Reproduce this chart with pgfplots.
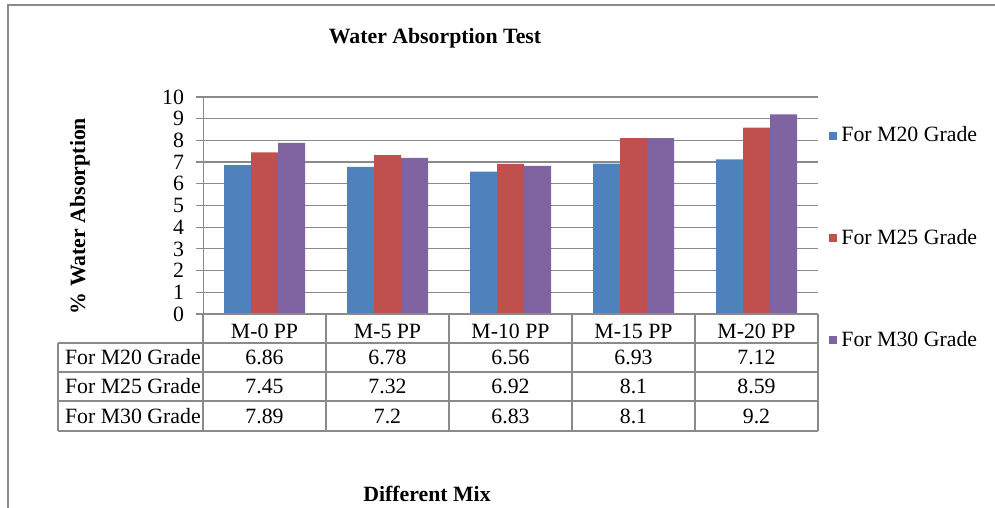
\documentclass[border=0pt]{standalone}
\usepackage{pgfplots}
\pgfplotsset{compat=1.18}
\usepackage{pgfplotstable}
\usepackage{fontspec}
\setmainfont{Liberation Serif}

\definecolor{gM20}{HTML}{4F81BD}
\definecolor{gM25}{HTML}{C0504D}
\definecolor{gM30}{HTML}{8064A2}
\definecolor{rule}{HTML}{8A8A8A}

% water absorption (%) for each mix and concrete grade
\pgfplotstableread{
x m20 m25 m30
0 6.86 7.45 7.89
1 6.78 7.32 7.2
2 6.56 6.92 6.83
3 6.93 8.1 8.1
4 7.12 8.59 9.2
}\datatable

\newcommand{\chartfont}{\fontsize{10.9}{13}\selectfont}

\begin{document}
\begin{tikzpicture}[x=0.5pt,y=0.5pt,font=\chartfont]
\useasboundingbox (0,0) rectangle (995,508);
% outer chart frame
\draw[rule,line width=0.8pt] (8,-20) -- (8,503) -- (1010,503);

\begin{axis}[
  at={(101.5pt,97pt)}, anchor=south west,
  scale only axis, width=307.5pt, height=108.5pt,
  xmin=-0.5, xmax=4.5, ymin=0, ymax=10,
  ybar=0pt, bar width=13.5pt,
  axis line style={draw=none},
  xtick={0,1,2,3,4},
  xticklabels={M-0 PP,M-5 PP,M-10 PP,M-15 PP,M-20 PP},
  xtick style={draw=none},
  xticklabel style={anchor=center, yshift=-5.1pt, font=\chartfont},
  ytick={0,1,...,10},
  ytick pos=left, tick align=outside,
  major tick length=3.5pt,
  ytick style={rule, line width=0.6pt},
  yticklabel style={font=\chartfont},
  yticklabel shift=2.5pt,
  /pgf/number format/assume math mode=true,
  ymajorgrids, grid style={rule, line width=0.6pt},
  legend cell align=left,
  legend style={draw=none, fill=none, inner sep=0pt,
    at={(1.018,0.35)}, anchor=west, font=\chartfont,
    row sep=38pt,
    nodes={inner sep=2pt}},
  legend image code/.code={\fill[#1] (0pt,-2pt) rectangle (4pt,2pt);},
]
\addplot[fill=gM20, draw=none] table[x=x, y=m20] {\datatable};
\addplot[fill=gM25, draw=none] table[x=x, y=m25] {\datatable};
\addplot[fill=gM30, draw=none] table[x=x, y=m30] {\datatable};
\legend{For M20 Grade, For M25 Grade, For M30 Grade}
\draw[rule, line width=0.6pt] (rel axis cs:0,0) -- (rel axis cs:0,1);
\end{axis}

% data table below the plot area
\begin{scope}[rule, line width=0.6pt]
  \draw (203,194) -- (818,194);
  \foreach \yy in {165,136,107,77} \draw (58,\yy) -- (818,\yy);
  \foreach \xx in {203,326,449,572,695,818} \draw (\xx,194) -- (\xx,77);
  \draw (58,165) -- (58,77);
\end{scope}
\node[anchor=west] at (58,150.5) {For M20 Grade};
\node[anchor=west] at (58,121.5) {For M25 Grade};
\node[anchor=west] at (58,92) {For M30 Grade};
\foreach \r in {0,...,4} {
  \pgfplotstablegetelem{\r}{m20}\of\datatable
  \node at ({264.5+123*\r},150.5) {\pgfplotsretval};
  \pgfplotstablegetelem{\r}{m25}\of\datatable
  \node at ({264.5+123*\r},121.5) {\pgfplotsretval};
  \pgfplotstablegetelem{\r}{m30}\of\datatable
  \node at ({264.5+123*\r},92) {\pgfplotsretval};
}

\node[font=\chartfont\bfseries] at (435,470) {Water Absorption Test};
\node[font=\chartfont\bfseries] at (427,14) {Different Mix};
\node[font=\chartfont\bfseries, rotate=90] at (80,292) {\% Water Absorption};
\end{tikzpicture}
\end{document}
